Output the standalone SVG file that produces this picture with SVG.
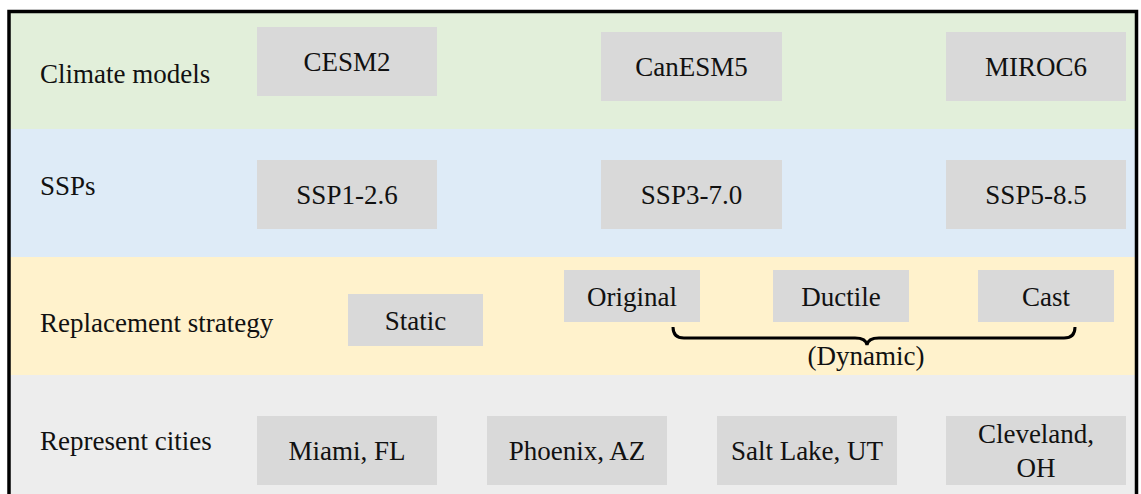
<svg xmlns="http://www.w3.org/2000/svg" width="1141" height="494" viewBox="0 0 1141 494">
  <style>
    text { font-family: "Liberation Serif", "Times New Roman", serif; font-size: 27px; fill: #111; }
    .c { text-anchor: middle; }
    .box { fill: #d9d9d9; }
  </style>
  <rect x="0" y="0" width="1141" height="494" fill="#ffffff"/>
  <g id="bands">
    <rect x="9" y="12" width="1127" height="117" fill="#e2efda"/>
    <rect x="9" y="129" width="1127" height="128" fill="#deebf7"/>
    <rect x="9" y="257" width="1127" height="118" fill="#fff2cc"/>
    <rect x="9" y="375" width="1127" height="125" fill="#ededed"/>
  </g>
  <rect id="frame" x="9" y="11.5" width="1127.5" height="500" fill="none" stroke="#000" stroke-width="3.5"/>
  <g id="row-labels">
    <text x="40" y="83">Climate models</text>
    <text x="40" y="195">SSPs</text>
    <text x="40" y="332">Replacement strategy</text>
    <text x="40" y="450">Represent cities</text>
  </g>
  <g id="cesm2"><rect class="box" x="257" y="27" width="180" height="69"/><text class="c" x="347" y="71">CESM2</text></g>
  <g id="canesm5"><rect class="box" x="601" y="32" width="181" height="69"/><text class="c" x="691.5" y="76">CanESM5</text></g>
  <g id="miroc6"><rect class="box" x="946" y="32" width="180" height="69"/><text class="c" x="1036" y="76">MIROC6</text></g>
  <g id="ssp126"><rect class="box" x="257" y="160" width="180" height="69"/><text class="c" x="347" y="203.5">SSP1-2.6</text></g>
  <g id="ssp370"><rect class="box" x="601" y="160" width="181" height="69"/><text class="c" x="691.5" y="203.5">SSP3-7.0</text></g>
  <g id="ssp585"><rect class="box" x="946" y="160" width="180" height="69"/><text class="c" x="1036" y="203.5">SSP5-8.5</text></g>
  <g id="static"><rect class="box" x="348" y="294" width="135" height="52"/><text class="c" x="415.5" y="329.5">Static</text></g>
  <g id="original"><rect class="box" x="564" y="270" width="136" height="52"/><text class="c" x="632" y="305.5">Original</text></g>
  <g id="ductile"><rect class="box" x="773" y="270" width="136" height="52"/><text class="c" x="841" y="305.5">Ductile</text></g>
  <g id="cast"><rect class="box" x="978" y="270" width="136" height="52"/><text class="c" x="1046" y="305.5">Cast</text></g>
  <g id="connectors">
    <path d="M673,327 Q673,338 684,338 L855,338 Q866,338 867,345 Q868,338 879,338 L1064,338 Q1075,338 1075,327" fill="none" stroke="#000" stroke-width="3"/>
  </g>
  <g id="dynamic-label"><text class="c" x="866" y="365">(Dynamic)</text></g>
  <g id="miami"><rect class="box" x="257" y="416" width="180" height="69"/><text class="c" x="347" y="460">Miami, FL</text></g>
  <g id="phoenix"><rect class="box" x="487" y="416" width="180" height="69"/><text class="c" x="577" y="460">Phoenix, AZ</text></g>
  <g id="saltlake"><rect class="box" x="717" y="416" width="180" height="69"/><text class="c" x="807" y="460">Salt Lake, UT</text></g>
  <g id="cleveland"><rect class="box" x="946" y="416" width="180" height="69"/><text class="c" x="1036" y="443">Cleveland,</text><text class="c" x="1036" y="477">OH</text></g>
</svg>
